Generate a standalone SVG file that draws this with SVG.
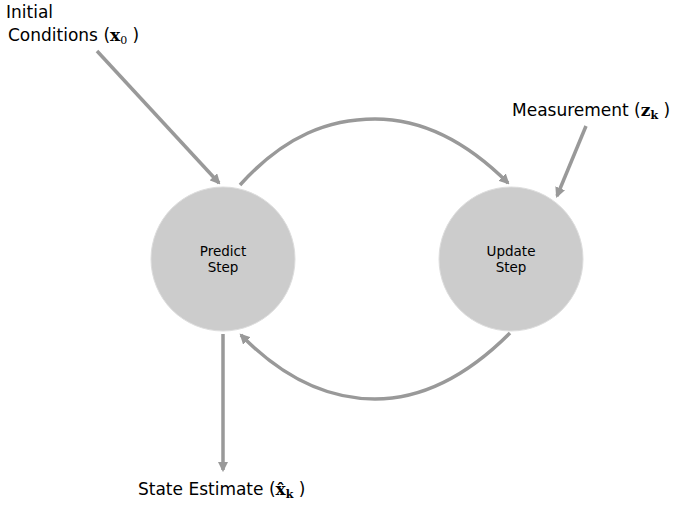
<svg xmlns="http://www.w3.org/2000/svg" width="680" height="508" viewBox="0 0 680 508">
<style>
.lbl{font-family:"DejaVu Sans",sans-serif;font-size:17px;fill:#000}
.node{font-family:"DejaVu Sans",sans-serif;font-size:13.5px;fill:#000;text-anchor:middle}
.m{font-family:"DejaVu Serif","Liberation Serif",serif;font-weight:bold}
.c{fill:#cccccc;stroke:#dddddd;stroke-width:1}
.e{fill:none;stroke:#999999;stroke-width:3.5;marker-end:url(#ah)}
</style>
<defs>
<marker id="ah" viewBox="0 0 10 10" refX="8" refY="5" markerWidth="3" markerHeight="3" orient="auto" markerUnits="strokeWidth">
<path d="M0,0 L10,5 L0,10 z" fill="#999999"/>
</marker>
</defs>
<rect width="680" height="508" fill="#ffffff"/>
<g id="connectors">
<path class="e" d="M97,51 L219,183"/>
<path class="e" d="M240,185 C285,135 330,119 375,119 C420,119 465,140 508,183"/>
<path class="e" d="M586,126 L557,196"/>
<path class="e" d="M510,333 C465,378 420,399 375,399 C330,399 285,380 241,335"/>
<path class="e" d="M223,334 L223,470"/>
</g>
<g id="predict">
<circle class="c" cx="223" cy="259" r="72"/>
<text class="node" x="223" y="256">Predict</text>
<text class="node" x="223" y="272">Step</text>
</g>
<g id="update">
<circle class="c" cx="511" cy="259" r="72"/>
<text class="node" x="511" y="256">Update</text>
<text class="node" x="511" y="272">Step</text>
</g>
<g id="initial">
<text class="lbl" x="6" y="18">Initial</text>
<text class="lbl" x="8" y="41">Conditions (<tspan class="m">x</tspan><tspan font-family="DejaVu Serif,serif" font-size="11" dy="3">0</tspan><tspan dy="-3"> )</tspan></text>
</g>
<g id="measurement">
<text class="lbl" x="512" y="116">Measurement (<tspan class="m">z</tspan><tspan class="m" font-size="11" dy="3">k</tspan><tspan dy="-3"> )</tspan></text>
</g>
<g id="estimate">
<text class="lbl" x="138" y="495">State Estimate (<tspan class="m" font-weight="normal">x̂</tspan><tspan class="m" font-size="11" dy="3">k</tspan><tspan dy="-3"> )</tspan></text>
</g>
</svg>
